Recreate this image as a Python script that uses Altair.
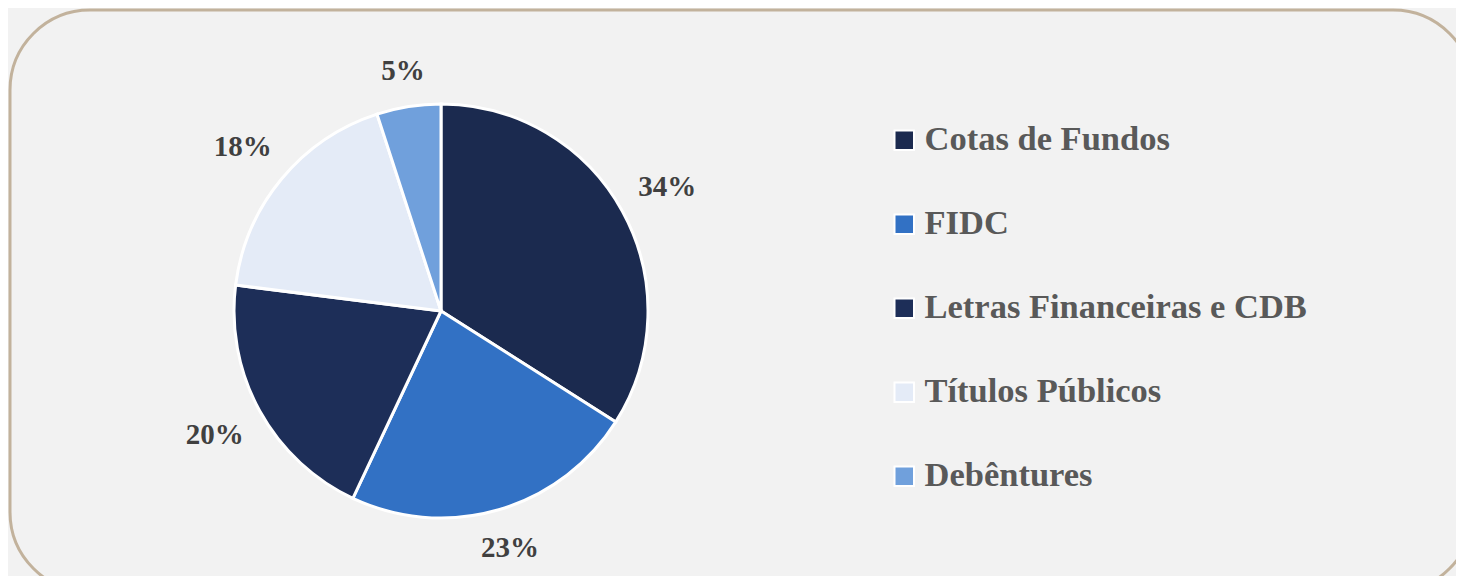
import altair as alt
import pandas as pd

categories = ["Cotas de Fundos", "FIDC", "Letras Financeiras e CDB", "Títulos Públicos", "Debêntures"]
shares = [34, 23, 20, 18, 5]
labels = ["34%", "23%", "20%", "18%", "5%"]
colors = ["#1b2a4f", "#3271c4", "#1d2e58", "#e4ebf7", "#70a0dc"]

df = pd.DataFrame({
    "categoria": categories,
    "valor": shares,
    "rotulo": labels,
    "ordem": list(range(len(categories))),
})
frame_df = pd.DataFrame({"moldura": [0]})

SERIF = "Liberation Serif"
cx, cy = 431, 301
R = 207

# decorative rounded frame (extends past the page edge like the reference)
frame = alt.Chart(frame_df).mark_rect(
    fill="#f2f2f2",
    stroke="#c2b29c",
    strokeWidth=3,
    cornerRadius=80,
).encode(
    x=alt.value(0),
    x2=alt.value(1463),
    y=alt.value(0),
    y2=alt.value(582),
)

arcs = alt.Chart(df).mark_arc(outerRadius=R, stroke="white", strokeWidth=3).encode(
    theta=alt.Theta("valor:Q", stack=True),
    order=alt.Order("ordem:Q", sort="ascending"),
    color=alt.Color(
        "categoria:N",
        sort=categories,
        scale=alt.Scale(domain=categories, range=colors),
        legend=alt.Legend(
            title=None,
            orient="none",
            legendX=877,
            legendY=113,
            symbolType="square",
            symbolSize=380,
            symbolStrokeColor="white",
            symbolStrokeWidth=2,
            symbolOpacity=1,
            labelFont=SERIF,
            labelFontSize=34.5,
            labelFontWeight="bold",
            labelColor="#595959",
            labelOffset=3,
            labelLimit=600,
            rowPadding=49,
            padding=0,
        ),
    ),
    x=alt.value(cx),
    y=alt.value(cy),
)

# labels sit just outside the pie at each slice's mid-angle,
# pushed out by half their box so that the box clears the pie
texts = (
    alt.Chart(df)
    .transform_joinaggregate(total="sum(valor)")
    .transform_window(acum="sum(valor)", sort=[alt.SortField("ordem")])
    .transform_calculate(
        ang="2*PI*(datum.acum - datum.valor/2)/datum.total",
    )
    .transform_calculate(
        rlab=f"{R} + 21 + length(datum.rotulo)*9.3*abs(sin(datum.ang)) + 12*abs(cos(datum.ang))",
    )
    .mark_text(
        font=SERIF,
        fontSize=29,
        fontWeight="bold",
        color="#404040",
        baseline="middle",
        align="center",
    )
    .encode(
        text="rotulo:N",
        theta=alt.Theta("ang:Q", scale=None, stack=None),
        radius=alt.Radius("rlab:Q", scale=None),
        x=alt.value(cx),
        y=alt.value(cy),
    )
)

chart = (
    alt.layer(frame, arcs, texts)
    .properties(
        width=1446,
        height=566,
        autosize=alt.AutoSizeParams(type="none"),
        padding={"left": 2, "top": 2, "right": 0, "bottom": 0},
        background="#f2f2f2",
    )
    .configure_view(
        fill="#f2f2f2",
        strokeWidth=0,
    )
)

chart.save("out.html", embed_options={"renderer": "svg", "actions": False})
